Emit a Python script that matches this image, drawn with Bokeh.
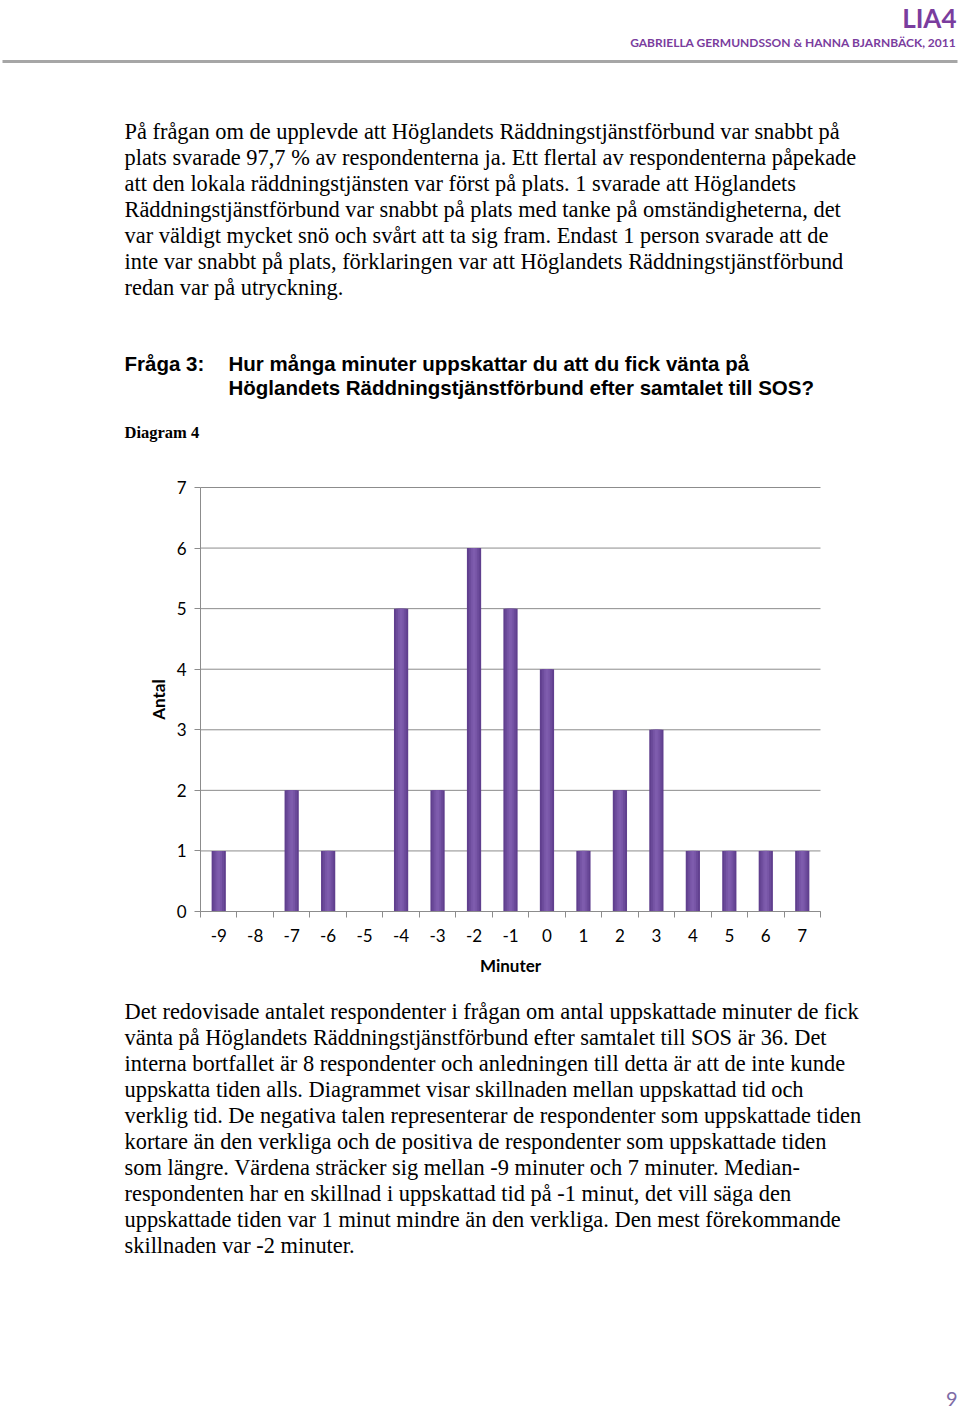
from bokeh.plotting import figure
from bokeh.models import Range1d, FixedTicker, LinearAxis
from bokeh.core.properties import value
from bokeh.embed import file_html
from bokeh.resources import INLINE

# ---- data ----
minutes = [-9, -8, -7, -6, -5, -4, -3, -2, -1, 0, 1, 2, 3, 4, 5, 6, 7]
counts = [1, 0, 2, 1, 0, 5, 2, 6, 5, 4, 1, 2, 3, 1, 1, 1, 1]
y_ticks = [0, 1, 2, 3, 4, 5, 6, 7]
x_label = "Minuter"
y_label = "Antal"

header_title = "LIA4"
header_sub = "GABRIELLA GERMUNDSSON & HANNA BJARNBÄCK, 2011"
intro_lines = [
    "På frågan om de upplevde att Höglandets Räddningstjänstförbund var snabbt på",
    "plats svarade 97,7 % av respondenterna ja. Ett flertal av respondenterna påpekade",
    "att den lokala räddningstjänsten var först på plats. 1 svarade att Höglandets",
    "Räddningstjänstförbund var snabbt på plats med tanke på omständigheterna, det",
    "var väldigt mycket snö och svårt att ta sig fram. Endast 1 person svarade att de",
    "inte var snabbt på plats, förklaringen var att Höglandets Räddningstjänstförbund",
    "redan var på utryckning.",
]
question_label = "Fråga 3:"
question_lines = [
    "Hur många minuter uppskattar du att du fick vänta på",
    "Höglandets Räddningstjänstförbund efter samtalet till SOS?",
]
diagram_label = "Diagram 4"
outro_lines = [
    "Det redovisade antalet respondenter i frågan om antal uppskattade minuter de fick",
    "vänta på Höglandets Räddningstjänstförbund efter samtalet till SOS är 36. Det",
    "interna bortfallet är 8 respondenter och anledningen till detta är att de inte kunde",
    "uppskatta tiden alls. Diagrammet visar skillnaden mellan uppskattad tid och",
    "verklig tid. De negativa talen representerar de respondenter som uppskattade tiden",
    "kortare än den verkliga och de positiva de respondenter som uppskattade tiden",
    "som längre. Värdena sträcker sig mellan -9 minuter och 7 minuter. Median-",
    "respondenten har en skillnad i uppskattad tid på -1 minut, det vill säga den",
    "uppskattade tiden var 1 minut mindre än den verkliga. Den mest förekommande",
    "skillnaden var -2 minuter.",
]
page_number = "9"

# ---- page geometry (pixels) ----
W, H = 960, 1410
FL, FR, FT, FB = 200, 820, 487, 911   # chart plotting area edges on the page

x_lo, x_hi = minutes[0] - 0.5, minutes[-1] + 0.5
y_lo, y_hi = y_ticks[0], y_ticks[-1]
kx = (FR - FL) / (x_hi - x_lo)
ky = (FB - FT) / (y_hi - y_lo)

p = figure(width=W, height=H, output_backend="svg", toolbar_location=None,
           x_range=Range1d(x_lo - FL / kx, x_hi + (W - FR) / kx),
           y_range=Range1d(y_lo - (H - FB) / ky, y_hi + FT / ky),
           x_axis_location=None, y_axis_location=None,
           min_border=0, outline_line_color=None,
           background_fill_color="white", border_fill_color="white")
p.grid.visible = False
p.extra_x_ranges = {"page": Range1d(0, W)}
p.extra_y_ranges = {"page": Range1d(H, 0)}

grid_col = "#8c8c8c"
tick_font = "Lato"

# horizontal grid lines (at the y ticks, across the category span)
p.segment(x0=[x_lo] * len(y_ticks), y0=y_ticks, x1=[x_hi] * len(y_ticks), y1=y_ticks,
          line_color=grid_col, line_width=1)

# bars with a soft horizontal gradient (layered)
p.vbar(x=minutes, top=counts, width=0.39, bottom=0, color="#603f8e", line_color=None)
p.vbar(x=minutes, top=counts, width=0.29, bottom=0, color="#6b4a9a", line_color=None)
p.vbar(x=minutes, top=counts, width=0.18, bottom=0, color="#7755a6", line_color=None)
p.vbar(x=minutes, top=counts, width=0.08, bottom=0, color="#7e5cad", line_color=None)

# axes fixed at the chart's edges
xa = LinearAxis(fixed_location=y_lo, bounds=(x_lo, x_hi))
xa.ticker = FixedTicker(ticks=minutes,
                        minor_ticks=[m - 0.5 for m in minutes] + [x_hi])
xa.major_label_overrides = {m: str(m) for m in minutes}
xa.major_tick_out = 0
xa.major_tick_in = 0
xa.minor_tick_out = 6
xa.minor_tick_in = 0
xa.minor_tick_line_color = grid_col
xa.axis_line_color = grid_col
xa.major_label_text_font = tick_font
xa.major_label_text_font_size = "17px"
xa.major_label_text_color = "#000000"
xa.major_label_standoff = 11
xa.axis_label = x_label
xa.axis_label_text_font = tick_font
xa.axis_label_text_font_style = "bold"
xa.axis_label_text_font_size = "17px"
xa.axis_label_standoff = 10
xa.axis_label_text_color = "#000000"
p.add_layout(xa, "below")

ya = LinearAxis(fixed_location=x_lo, bounds=(y_lo, y_hi))
ya.ticker = FixedTicker(ticks=y_ticks, minor_ticks=[])
ya.major_label_overrides = {t: str(t) for t in y_ticks}
ya.major_tick_out = 6
ya.major_tick_in = 0
ya.major_tick_line_color = grid_col
ya.axis_line_color = grid_col
ya.major_label_text_font = tick_font
ya.major_label_text_font_size = "17px"
ya.major_label_text_color = "#000000"
ya.major_label_standoff = 8
ya.axis_label = y_label
ya.axis_label_text_font = tick_font
ya.axis_label_text_font_style = "bold"
ya.axis_label_text_font_size = "17px"
ya.axis_label_standoff = 5
ya.axis_label_text_color = "#000000"
p.add_layout(ya, "left")

# ---- page texts (page pixel coordinates through the "page" ranges) ----
purple = "#7a3d9e"
body_font = value("Liberation Serif")
pg = dict(x_range_name="page", y_range_name="page", text_baseline="middle")

p.text(x=[956], y=[17], text=[header_title], text_font=value("Lato"),
       text_font_size="26px", text_font_style="bold", text_color=purple,
       text_align="right", **pg)
p.text(x=[956], y=[42], text=[header_sub], text_font=value("Lato"),
       text_font_size="12px", text_font_style="bold", text_color=purple,
       text_align="right", **pg)
p.segment(x0=[2], y0=[61], x1=[957], y1=[61], line_color="#a6a6a6", line_width=3,
          x_range_name="page", y_range_name="page")
p.text(x=[124] * len(intro_lines), y=[131 + 26 * i for i in range(len(intro_lines))],
       text=intro_lines, text_font=body_font, text_font_size="22.4px",
       text_color="#000000", **pg)
p.text(x=[124], y=[363], text=[question_label], text_font=value("Liberation Sans"),
       text_font_size="20.5px", text_font_style="bold", text_color="#000000", **pg)
p.text(x=[228] * len(question_lines), y=[363 + 24 * i for i in range(len(question_lines))],
       text=question_lines, text_font=value("Liberation Sans"),
       text_font_size="20.5px", text_font_style="bold", text_color="#000000", **pg)
p.text(x=[124], y=[432], text=[diagram_label], text_font=body_font,
       text_font_size="16.5px", text_font_style="bold", text_color="#000000", **pg)
p.text(x=[124] * len(outro_lines), y=[1011 + 26 * i for i in range(len(outro_lines))],
       text=outro_lines, text_font=body_font, text_font_size="22.4px",
       text_color="#000000", **pg)
p.text(x=[957], y=[1398], text=[page_number], text_font=value("Lato"),
       text_font_size="20px", text_color="#7e6ca6", text_align="right", **pg)

open("out.html", "w").write(file_html(p, INLINE))
